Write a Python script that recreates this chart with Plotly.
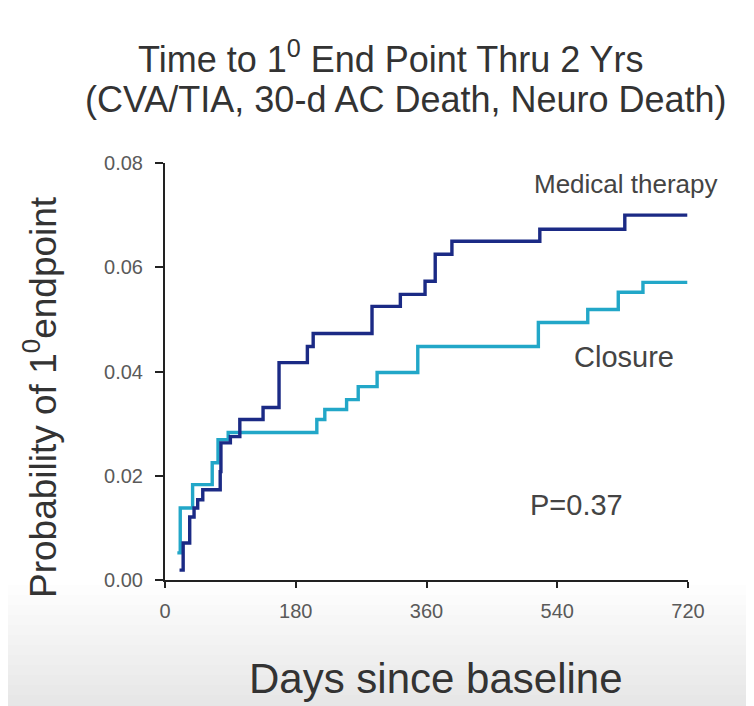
import plotly.graph_objects as go

# Medical therapy (Kaplan-Meier style step curve)
med_days = [20, 25, 34, 40, 45, 52, 76, 77, 90, 103, 135, 157, 196, 204, 285, 324, 358, 372, 395, 516, 633, 719]
med_prob = [0.0019, 0.0071, 0.0121, 0.0138, 0.0154, 0.0173, 0.0208, 0.0263, 0.0275, 0.0308, 0.0331, 0.0417,
            0.0448, 0.0473, 0.0525, 0.0548, 0.0573, 0.0625, 0.0650, 0.0673, 0.0700, 0.0700]

# Closure
clo_days = [17, 21, 38, 65, 73, 87, 209, 220, 250, 266, 292, 348, 514, 582, 624, 658, 719]
clo_prob = [0.0052, 0.0138, 0.0183, 0.0225, 0.0269, 0.0283, 0.0308, 0.0327, 0.0346, 0.0371, 0.0398,
            0.0448, 0.0494, 0.0519, 0.0552, 0.0571, 0.0571]

x_ticks = [0, 180, 360, 540, 720]
y_ticks = [0.00, 0.02, 0.04, 0.06, 0.08]

FONT = "Liberation Sans, Arial, sans-serif"

# plot area in page pixels (body margin of 8px is compensated)
L, R, T, B = 165, 688, 163, 580
PW, PH = R - L, B - T


def px(x):
    return (x - L) / PW


def py(y):
    return (B - y) / PH


fig = go.Figure()
fig.add_trace(go.Scatter(x=clo_days, y=clo_prob, mode="lines", line=dict(shape="hv", color="#22a7c8", width=3.4),
                         name="Closure", showlegend=False))
fig.add_trace(go.Scatter(x=med_days, y=med_prob, mode="lines", line=dict(shape="hv", color="#1b2a85", width=3.4),
                         name="Medical therapy", showlegend=False))

# soft grey gradient at the bottom of the picture
shapes = []
greys = [253, 251, 249, 247, 245, 243, 241, 239, 237, 235, 233, 231, 230]
y0 = 585
for i, g in enumerate(greys):
    ya = y0 + i * 10
    shapes.append(dict(type="rect", xref="paper", yref="paper", x0=px(0), x1=px(760),
                       y0=py(ya + 11), y1=py(ya), fillcolor=f"rgb({g},{g},{g})",
                       line=dict(width=0), layer="below"))

fig.update_layout(
    width=746, height=698,
    margin=dict(l=L - 8, r=754 - R, t=T - 8, b=706 - B),
    paper_bgcolor="white", plot_bgcolor="rgba(0,0,0,0)",
    font=dict(family=FONT, color="#333"),
    xaxis=dict(range=[0, 720], tickvals=x_ticks, ticktext=[str(v) for v in x_ticks],
               showgrid=False, zeroline=False, showline=True, linecolor="#222", linewidth=2,
               ticks="outside", ticklen=6, tickwidth=2, tickcolor="#222",
               tickfont=dict(size=20, color="#5a5a5a"), ticklabelstandoff=6),
    yaxis=dict(range=[0, 0.08], tickvals=y_ticks, ticktext=[f"{v:.2f}" for v in y_ticks],
               showgrid=False, zeroline=False, showline=True, linecolor="#222", linewidth=2,
               ticks="outside", ticklen=8, tickwidth=2, tickcolor="#222",
               tickfont=dict(size=20, color="#5a5a5a"), ticklabelstandoff=8),
    shapes=shapes,
    annotations=[
        dict(text="Time to 1<sup>0</sup> End Point Thru 2 Yrs", xref="paper", yref="paper",
             x=px(391), y=py(57), xanchor="center", yanchor="middle",
             showarrow=False, font=dict(size=36, color="#333")),
        dict(text="(CVA/TIA, 30-d AC Death, Neuro Death)", xref="paper", yref="paper",
             x=px(406), y=py(99), xanchor="center", yanchor="middle",
             showarrow=False, font=dict(size=36, color="#333")),
        dict(text="Probability of 1<sup>0</sup>endpoint", xref="paper", yref="paper",
             x=px(40), y=py(397), xanchor="center", yanchor="middle", textangle=-90, showarrow=False,
             font=dict(size=37, color="#333")),
        dict(text="Days since baseline", xref="paper", yref="paper",
             x=px(436), y=py(678), xanchor="center", yanchor="middle", showarrow=False,
             font=dict(size=42, color="#333")),
        dict(text="Medical therapy", xref="paper", yref="paper",
             x=px(626), y=py(184), xanchor="center", yanchor="middle", showarrow=False,
             font=dict(size=26, color="#444")),
        dict(text="Closure", xref="paper", yref="paper",
             x=px(624), y=py(357), xanchor="center", yanchor="middle", showarrow=False,
             font=dict(size=29, color="#444")),
        dict(text="P=0.37", xref="paper", yref="paper",
             x=px(576), y=py(505), xanchor="center", yanchor="middle", showarrow=False,
             font=dict(size=29, color="#444")),
    ],
)

fig.write_html("out.html")
